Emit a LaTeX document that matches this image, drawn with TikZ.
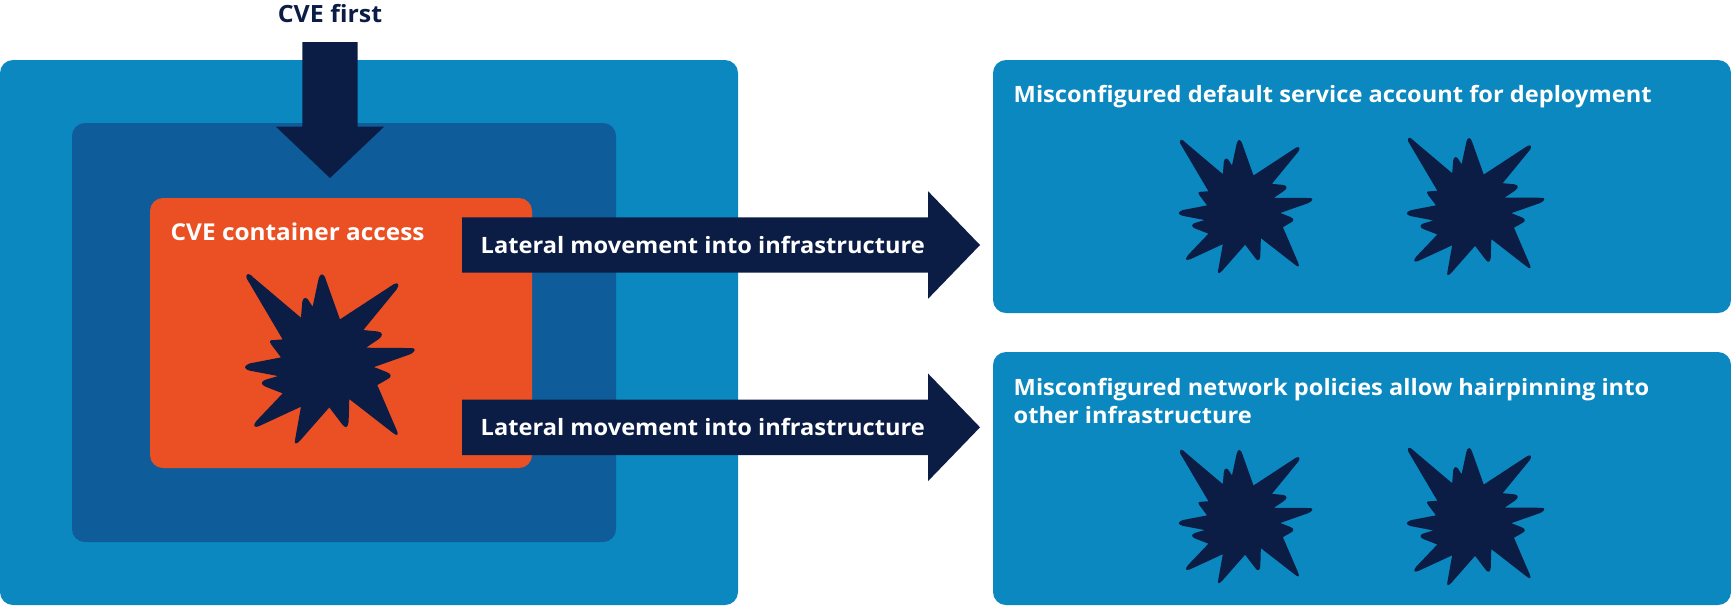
\documentclass[tikz,border=0pt]{standalone}
\usepackage{fontspec}
\setmainfont{Open Sans}[FakeStretch=1.05]
\usetikzlibrary{shapes.arrows,positioning}
\newcommand{\myunit}{0.01cm}
\newcommand{\lblfont}{\fontsize{6.4pt}{7.97pt}\selectfont\bfseries}
\definecolor{lightbl}{HTML}{0B88BF}
\definecolor{midbl}{HTML}{0E5C9A}
\definecolor{redor}{HTML}{EA5023}
\definecolor{darkbl}{HTML}{0C1D45}
\tikzset{
    boxsty/.style={fill=#1,rectangle,rounded corners=13*\myunit,inner sep=0pt,outer sep=0pt,anchor=north west},
    arrsty/.style={fill=darkbl,single arrow,single arrow head indent=0pt,inner sep=27*\myunit,anchor=tail,outer sep=0pt},
    lblsty/.style={text=white,font=\lblfont,inner sep=0pt,anchor=base west,align=left},
    burst/.pic={
      \fill[darkbl,shift={(-329.5,-326)}] (80,85) .. controls (76,66) and (90,70) .. (100,82)
        -- (243,203) -- (247,155) .. controls (250,138) and (262,142) .. (267,153)
        -- (278,170) -- (295,90) .. controls (300,66) and (312,68) .. (318,90)
        -- (360,208) -- (522,102) .. controls (535,96) and (540,104) .. (530,118)
        -- (430,240) -- (472,244) .. controls (490,246) and (490,258) .. (475,268)
        -- (438,293) -- (575,294) .. controls (588,294) and (588,304) .. (570,313)
        -- (462,351) -- (500,366) .. controls (516,372) and (516,382) .. (500,389)
        -- (472,405) -- (530,540) .. controls (538,558) and (530,558) .. (518,548)
        -- (388,447) -- (386,515) .. controls (384,534) and (376,536) .. (366,522)
        -- (328,472) -- (240,572) .. controls (226,586) and (222,582) .. (226,565)
        -- (243,470) -- (120,527) .. controls (100,536) and (98,526) .. (110,512)
        -- (188,430) -- (137,410) .. controls (122,404) and (122,394) .. (137,389)
        -- (174,378) -- (90,362) .. controls (70,356) and (70,348) .. (90,340)
        -- (183,322) -- (155,285) .. controls (146,272) and (150,270) .. (162,270)
        -- (188,268) -- cycle;
    },
}
\begin{document}
\begin{tikzpicture}[x=\myunit,y=-\myunit]
\useasboundingbox (0,0) rectangle (1731,605);

\node[boxsty=lightbl,minimum width=738*\myunit,minimum height=545*\myunit] (outerbox) at (0,60) {};
\node[boxsty=midbl,minimum width=544*\myunit,minimum height=419*\myunit] (midbox) at (72,123) {};
\node[boxsty=redor,minimum width=382*\myunit,minimum height=270*\myunit] (cvebox) at (150,198) {};
\node[boxsty=lightbl,minimum width=738*\myunit,minimum height=253*\myunit] (deplbox) at (993,60) {};
\node[boxsty=lightbl,minimum width=738*\myunit,minimum height=253*\myunit] (netbox) at (993,352) {};

\pic[scale=0.3333] at (329.8,358.7) {burst};
\foreach \yy in {206.4,516.4} {
  \pic[scale=0.2623] at (1245.5,\yy) {burst};
  \pic[scale=0.27] at (1475.5,\yy) {burst};
}

% arrows
\node[arrsty,shape border rotate=270,minimum width=107*\myunit,minimum height=136*\myunit,single arrow head extend=26.5*\myunit,single arrow tip angle=93] (firstarr) at (330,42) {};
\node[arrsty,minimum width=106*\myunit,minimum height=518*\myunit,single arrow head extend=26*\myunit,single arrow tip angle=92] (latarra) at (462,245) {};
\node[arrsty,minimum width=106*\myunit,minimum height=518*\myunit,single arrow head extend=26*\myunit,single arrow tip angle=92] (latarrb) at (462,427.3) {};

% labels
\node[lblsty,text=darkbl,anchor=base,font=\fontsize{6.75pt}{8pt}\selectfont\bfseries] (firstlbl) at (330,22) {CVE first};
\node[lblsty,font=\fontsize{6.6pt}{8pt}\selectfont\bfseries] (cvelbl) at (170,240) {CVE container access};
\node[lblsty] (lblatla) at ([xshift=18*\myunit,yshift=-8.3*\myunit]latarra.tail) {Lateral movement into infrastructure};
\node[lblsty] (lblatlb) at ([xshift=18*\myunit,yshift=-8.3*\myunit]latarrb.tail) {Lateral movement into infrastructure};
\node[lblsty] (depllbl) at (1013,102.5) {Misconfigured default service account for deployment};
\node[lblsty,anchor=north west] (netlbl) at (1013,377.5) {Misconfigured network policies allow hairpinning into\\other infrastructure};
\end{tikzpicture}
\end{document}
